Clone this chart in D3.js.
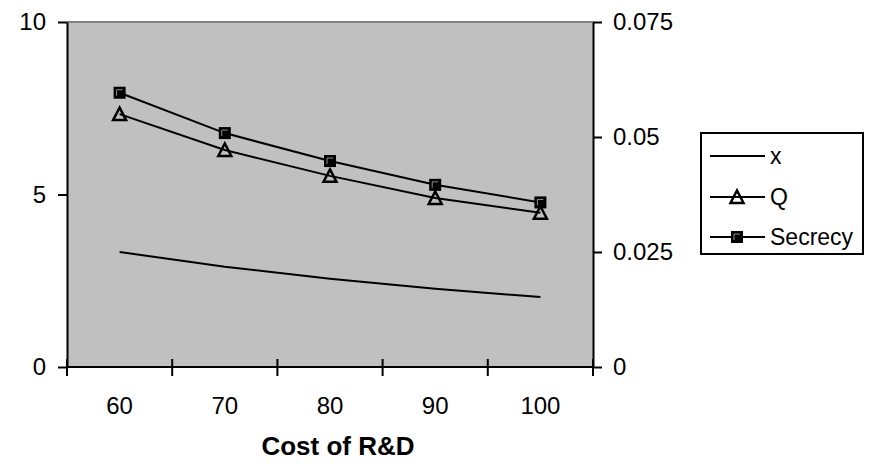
<!DOCTYPE html>
<html>
<head>
<meta charset="utf-8">
<script src="https://cdn.jsdelivr.net/npm/d3@7"></script>
<style>
  body { margin: 0; background: #fff; }
  svg { display: block; }
</style>
</head>
<body>
<svg id="chart" width="880" height="464"></svg>
<script>
const categories = [60, 70, 80, 90, 100];
const xValues = [0.025, 0.0218, 0.0192, 0.0170, 0.0152];   // right axis
const qValues = [7.33, 6.29, 5.54, 4.90, 4.47];            // left axis
const secrecyValues = [7.95, 6.78, 5.97, 5.28, 4.77];      // left axis
const leftTicks = [0, 5, 10];
const rightTicks = [0, 0.025, 0.05, 0.075];
const rightTickLabels = ["0", "0.025", "0.05", "0.075"];

const svg = d3.select("#chart");
const font = "Liberation Sans, Arial, sans-serif";

const plot = { left: 67, right: 593, top: 22, bottom: 367 };

const x = d3.scaleBand()
    .domain(categories)
    .range([plot.left, plot.right]);
const yL = d3.scaleLinear().domain([0, 10]).range([plot.bottom, plot.top]);
const yR = d3.scaleLinear().domain([0, 0.075]).range([plot.bottom, plot.top]);

// plot background
svg.append("rect")
    .attr("x", plot.left).attr("y", plot.top)
    .attr("width", plot.right - plot.left)
    .attr("height", plot.bottom - plot.top)
    .attr("fill", "#c0c0c0");

svg.append("line")
    .attr("x1", plot.left).attr("x2", plot.right)
    .attr("y1", plot.top).attr("y2", plot.top)
    .attr("stroke", "#808080").attr("stroke-width", 2);

// left axis
const gL = svg.append("g")
    .attr("transform", `translate(${plot.left},0)`)
    .call(d3.axisLeft(yL).tickValues(leftTicks).tickSize(9).tickPadding(12).tickSizeOuter(0));

// right axis
const gR = svg.append("g")
    .attr("transform", `translate(${plot.right},0)`)
    .call(d3.axisRight(yR).tickValues(rightTicks).tickSize(9).tickPadding(11).tickSizeOuter(0)
        .tickFormat((d, i) => rightTickLabels[i]));

// bottom axis: ticks on band boundaries, crossing the axis line
const gB = svg.append("g");
gB.append("line")
    .attr("x1", plot.left).attr("x2", plot.right)
    .attr("y1", plot.bottom).attr("y2", plot.bottom)
    .attr("stroke", "#000").attr("stroke-width", 2);
const bounds = categories.map(c => x(c)).concat([x(categories[categories.length - 1]) + x.bandwidth()]);
gB.selectAll(".tk")
    .data(bounds)
    .join("line")
    .attr("x1", d => d).attr("x2", d => d)
    .attr("y1", plot.bottom - 8).attr("y2", plot.bottom + 9)
    .attr("stroke", "#000").attr("stroke-width", 2);
gB.selectAll(".lbl")
    .data(categories)
    .join("text")
    .attr("x", d => x(d) + x.bandwidth() / 2)
    .attr("y", 414)
    .attr("text-anchor", "middle")
    .text(d => d);

[gL, gR].forEach(g => {
    g.select(".domain").attr("stroke-width", 2);
    g.selectAll(".tick line").attr("stroke-width", 2);
});
svg.selectAll("text")
    .attr("font-family", font)
    .attr("font-size", 24)
    .attr("fill", "#000");

// axis title
svg.append("text")
    .attr("x", 338).attr("y", 455)
    .attr("text-anchor", "middle")
    .attr("font-family", font)
    .attr("font-size", 26)
    .attr("font-weight", "bold")
    .text("Cost of R&D");

const cx = d => x(d) + x.bandwidth() / 2;
const line = (vals, scale) => d3.line()
    .x((d, i) => cx(categories[i]))
    .y(d => scale(d))(vals);

const series = svg.append("g")
    .attr("fill", "none")
    .attr("stroke", "#000")
    .attr("stroke-width", 2);

series.append("path").attr("d", line(xValues, yR));
series.append("path").attr("d", line(qValues, yL));
series.append("path").attr("d", line(secrecyValues, yL));

function triangle(g, px, py) {
    g.append("path")
        .attr("d", `M${px},${py - 6.5}L${px + 6.5},${py + 6}L${px - 6.5},${py + 6}Z`)
        .attr("fill", "none")
        .attr("stroke", "#000")
        .attr("stroke-width", 2.5)
        .attr("stroke-linejoin", "miter");
}
function square(g, px, py) {
    g.append("rect")
        .attr("x", px - 6).attr("y", py - 6)
        .attr("width", 12).attr("height", 12)
        .attr("fill", "#000");
    g.append("path")
        .attr("d", `M${px - 3},${py + 3}V${py - 3}H${px + 3}`)
        .attr("fill", "none")
        .attr("stroke", "#909090")
        .attr("stroke-width", 1);
}

const marks = svg.append("g");
qValues.forEach((v, i) => triangle(marks, cx(categories[i]), yL(v)));
secrecyValues.forEach((v, i) => square(marks, cx(categories[i]), yL(v)));

// legend
const legend = svg.append("g");
legend.append("rect")
    .attr("x", 701).attr("y", 133)
    .attr("width", 162).attr("height", 121)
    .attr("fill", "#fff")
    .attr("stroke", "#000")
    .attr("stroke-width", 2);

const legendItems = [
    { name: "x", y: 156, mark: null },
    { name: "Q", y: 197, mark: triangle },
    { name: "Secrecy", y: 237, mark: square }
];
legendItems.forEach(it => {
    legend.append("line")
        .attr("x1", 710).attr("x2", 765)
        .attr("y1", it.y).attr("y2", it.y)
        .attr("stroke", "#000").attr("stroke-width", 2);
    if (it.mark) it.mark(legend, 737, it.y);
    legend.append("text")
        .attr("x", 770).attr("y", it.y + 8)
        .attr("font-family", font)
        .attr("font-size", 23)
        .text(it.name);
});
</script>
</body>
</html>
